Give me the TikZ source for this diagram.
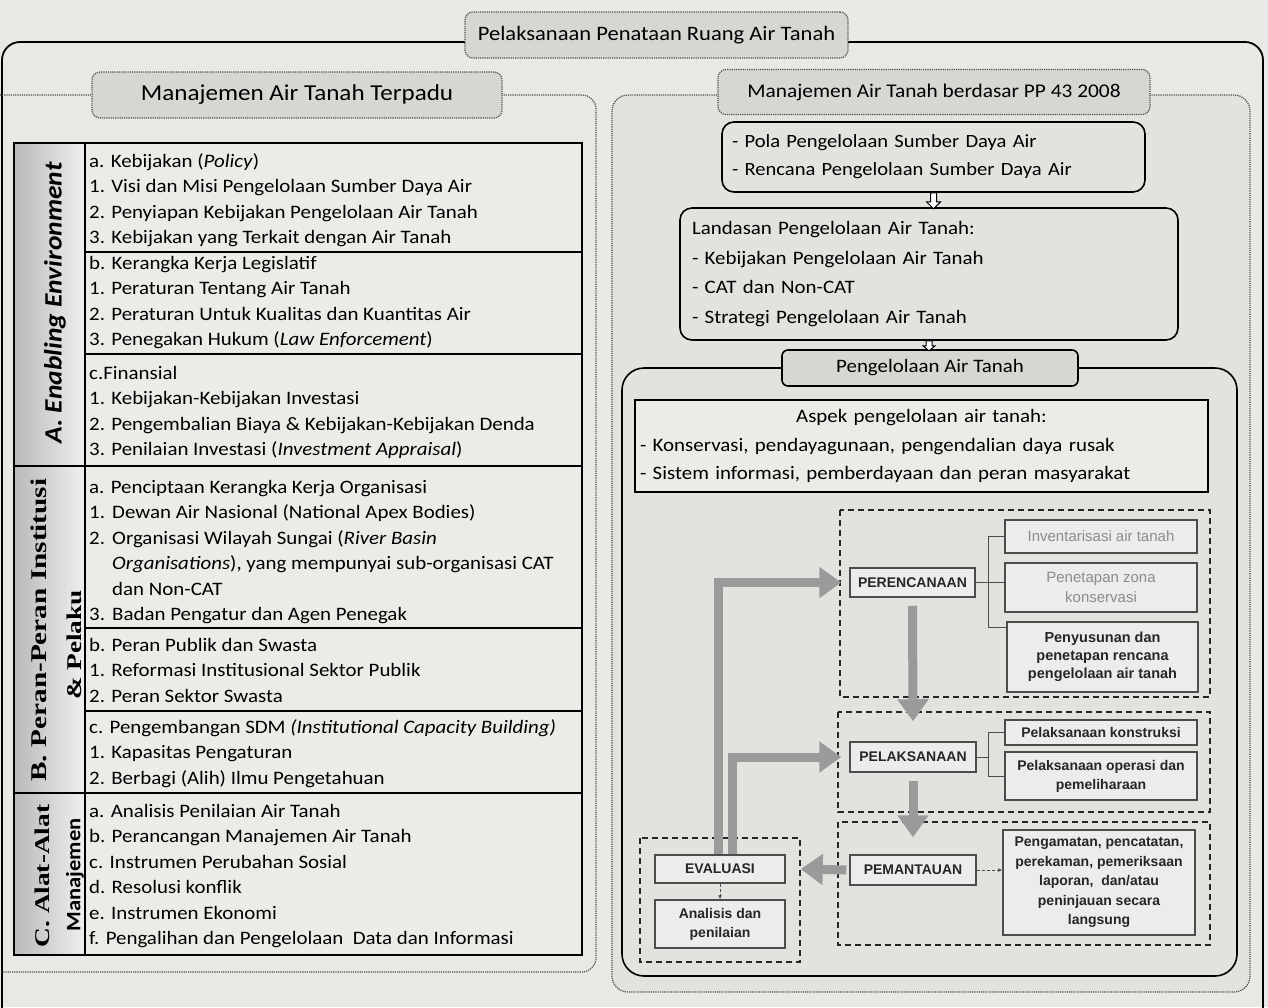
\documentclass[tikz,border=0pt]{standalone}
\usepackage{fontspec}
\setmainfont{Carlito}[FakeStretch=1.1]
\newfontfamily\flowfont{Liberation Sans}
\newfontfamily\labserif{Liberation Serif}[FakeStretch=1.3]
\usetikzlibrary{arrows.meta,calc}
\definecolor{bgc}{HTML}{E8E8E5}
\definecolor{panelc}{HTML}{E2E2DF}
\definecolor{cellc}{HTML}{EBEBE8}
\definecolor{hdrc}{HTML}{D6D6D3}
\definecolor{arrc}{HTML}{9A9A9A}
\definecolor{fboxc}{HTML}{ECECEA}
\definecolor{dotc}{HTML}{505050}
\newcommand{\numbx}[1]{\makebox[23pt][l]{#1}}
\begin{document}
\begin{tikzpicture}[x=1pt,y=-1pt,
  hdr/.style={draw=dotc, densely dotted, line width=1.2pt, rounded corners=8pt, fill=hdrc, inner sep=0pt},
  rbox/.style={draw=black, line width=1.6pt, rounded corners=12pt, fill=panelc},
  tabtxt/.style={anchor=north west, inner sep=0pt, align=left, font=\fontsize{19}{25.5}\selectfont},
  fbox/.style={draw=black!70, line width=1.5pt, fill=fboxc, inner sep=1pt, align=center, text=black!85, font=\flowfont\bfseries\fontsize{14}{19}\selectfont},
  fgray/.style={fbox, text=black!45, font=\flowfont\fontsize{15}{20}\selectfont},
  grp/.style={draw=black!85, line width=1.5pt, dash pattern=on 6pt off 4pt},
  bigarr/.style={draw=arrc, line width=9pt, -{Triangle[length=22pt,width=30pt]}},
  conn/.style={draw=black!70, line width=1pt},
  pdot/.style={draw=dotc, densely dotted, line width=1.2pt}
]
\fill[bgc] (0,0) rectangle (1268,1007);
\useasboundingbox (0,0) rectangle (1268,1007);

% outer frame
\draw[line width=1.8pt, rounded corners=18pt] (2,42) rectangle (1263,1040);
\node[hdr, minimum width=383, minimum height=46, font=\fontsize{20.5}{20.5}\selectfont] (title) at (656.5,35) {Pelaksanaan Penataan Ruang Air Tanah};

% left panel
\draw[pdot, rounded corners=14pt] (-20,95) -- (596,95) -- (596,972) -- (-20,972);
\node[hdr, minimum width=410, minimum height=46, font=\fontsize{22.8}{22.8}\selectfont] (lhdr) at (297,95) {Manajemen Air Tanah Terpadu};

% left table
\fill[cellc] (85,143) rectangle (582,955);
\shade[left color=gray!55, right color=gray!12] (14,143) rectangle (85,955);
\draw[line width=1.8pt] (14,143) rectangle (582,955);
\draw[line width=1.8pt] (85,143) -- (85,955);
\draw[line width=1.8pt] (14,466) -- (582,466);
\draw[line width=1.8pt] (14,793) -- (582,793);
\draw[line width=1.6pt] (85,252) -- (582,252);
\draw[line width=1.8pt] (85,354) -- (582,354);
\draw[line width=1.6pt] (85,628) -- (582,628);
\draw[line width=1.8pt] (85,711) -- (582,711);

\node[rotate=90, font=\bfseries\itshape\fontsize{25}{25}\selectfont] (labA) at (55,303) {A. Enabling Environment};
\node[rotate=90, font=\labserif\bfseries\fontsize{22.5}{22.5}\selectfont] (labB) at (39,630) {B. Peran-Peran Institusi};
\node[rotate=90, font=\labserif\bfseries\fontsize{21}{21}\selectfont] (labB2) at (74,645) {\& Pelaku};
\node[rotate=90, font=\labserif\bfseries\fontsize{21}{21}\selectfont] (labC) at (42,876) {C. Alat-Alat};
\node[rotate=90, font=\bfseries\fontsize{20.5}{20.5}\selectfont] (labC2) at (75,875) {Manajemen};

\node[tabtxt] (ta) at (89,149) {\strut a. Kebijakan (\textit{Policy})\\1. Visi dan Misi Pengelolaan Sumber Daya Air\\2. Penyiapan Kebijakan Pengelolaan Air Tanah\\3. Kebijakan yang Terkait dengan Air Tanah};
\node[tabtxt] (tb) at (89,251) {\strut b. Kerangka Kerja Legislatif\\1. Peraturan Tentang Air Tanah\\2. Peraturan Untuk Kualitas dan Kuantitas Air\\3. Penegakan Hukum (\textit{Law Enforcement})};
\node[tabtxt] (tc) at (89,361) {\strut c.Finansial\\1. Kebijakan-Kebijakan Investasi\\2. Pengembalian Biaya \& Kebijakan-Kebijakan Denda\\3. Penilaian Investasi (\textit{Investment Appraisal})};
\node[tabtxt] (ba) at (89,475) {\strut a. Penciptaan Kerangka Kerja Organisasi\\\numbx{1.}Dewan Air Nasional (National Apex Bodies)\\\numbx{2.}Organisasi Wilayah Sungai (\textit{River Basin}\\\numbx{}\textit{Organisations}), yang mempunyai sub-organisasi CAT\\\numbx{}dan Non-CAT\\\numbx{3.}Badan Pengatur dan Agen Penegak};
\node[tabtxt] (bb) at (89,633) {\strut b. Peran Publik dan Swasta\\1. Reformasi Institusional Sektor Publik\\2. Peran Sektor Swasta};
\node[tabtxt] (bc) at (89,715) {\strut c. Pengembangan SDM \textit{(Institutional Capacity Building)}\\1. Kapasitas Pengaturan\\2. Berbagi (Alih) Ilmu Pengetahuan};
\node[tabtxt] (ca) at (89,799) {\strut a. Analisis Penilaian Air Tanah\\b. Perancangan Manajemen Air Tanah\\c. Instrumen Perubahan Sosial\\d. Resolusi konflik\\e. Instrumen Ekonomi\\f. Pengalihan dan Pengelolaan\ \ Data dan Informasi};

% right panel
\draw[pdot, rounded corners=16pt, fill=panelc] (612,95) rectangle (1250,992);
\node[hdr, minimum width=432, minimum height=45, font=\fontsize{19.4}{19.4}\selectfont] (rhdr) at (934,92) {Manajemen Air Tanah berdasar PP 43 2008};

\node[rbox, minimum width=423, minimum height=70, text width=403, inner xsep=10pt, align=left, font=\fontsize{18.7}{28}\selectfont] (b1) at (933.5,157) {- Pola Pengelolaan Sumber Daya Air\\- Rencana Pengelolaan Sumber Daya Air};
\node[rbox, minimum width=498, minimum height=132, text width=474, inner xsep=12pt, align=left, font=\fontsize{19}{29.5}\selectfont] (b2) at (929,274) {Landasan Pengelolaan Air Tanah:\\- Kebijakan Pengelolaan Air Tanah\\- CAT dan Non-CAT\\- Strategi Pengelolaan Air Tanah};

\draw[line width=1.6pt, rounded corners=22pt] (622,368) rectangle (1237,976);
\node[rbox, fill=hdrc, rounded corners=6pt, minimum width=296, minimum height=36, inner sep=0pt, font=\fontsize{19}{19}\selectfont] (pg) at (930,368) {Pengelolaan Air Tanah};

\draw[line width=1pt, fill=white] ($(b1.south)+(-3,0)$) -- ++(0,9) -- ++(-4,0) -- ++(7,7) -- ++(7,-7) -- ++(-4,0) -- ++(0,-9) -- cycle;
\draw[line width=1pt, fill=white] ($(b2.south)+(-3,0)$) -- ++(0,5) -- ++(-3,0) -- ++(6,5) -- ++(6,-5) -- ++(-3,0) -- ++(0,-5) -- cycle;

\node[draw, line width=1.6pt, fill=cellc, minimum width=573, minimum height=92, text width=563, inner sep=5pt, align=left, font=\fontsize{19}{28.5}\selectfont] (asp) at (921.5,446) {\makebox[563pt]{Aspek pengelolaan air tanah:}\\- Konservasi, pendayagunaan, pengendalian daya rusak\\- Sistem informasi, pemberdayaan dan peran masyarakat};

% flow groups
\draw[grp] (840,510) rectangle (1210,697);
\draw[grp] (838,712) rectangle (1210,812);
\draw[grp] (838,822) rectangle (1210,945);
\draw[grp] (640,838) rectangle (800,962);

% flow nodes
\node[fbox, minimum width=125, minimum height=29] (per) at (912.5,582.5) {PERENCANAAN};
\node[fgray, minimum width=192, minimum height=33] (inv) at (1101,536.5) {Inventarisasi air tanah};
\node[fgray, minimum width=192, minimum height=49] (zon) at (1101,587.5) {Penetapan zona\\konservasi};
\node[fbox, minimum width=191, minimum height=70, font=\flowfont\bfseries\fontsize{14.5}{18}\selectfont] (rcn) at (1102.5,657) {Penyusunan dan\\penetapan rencana\\pengelolaan air tanah};
\node[fbox, minimum width=126, minimum height=30] (pel) at (913,757) {PELAKSANAAN};
\node[fbox, minimum width=192, minimum height=25] (kon) at (1101,732.5) {Pelaksanaan konstruksi};
\node[fbox, minimum width=192, minimum height=48] (ops) at (1101,776) {Pelaksanaan operasi dan\\pemeliharaan};
\node[fbox, minimum width=126, minimum height=30] (pem) at (913,870) {PEMANTAUAN};
\node[fbox, minimum width=192, minimum height=105, font=\flowfont\bfseries\fontsize{14}{19.5}\selectfont] (pmt) at (1099,882.5) {Pengamatan, pencatatan,\\perekaman, pemeriksaan\\laporan,\ \ dan/atau\\peninjauan secara\\langsung};
\node[fbox, minimum width=130, minimum height=28] (ev) at (720,869) {EVALUASI};
\node[fbox, minimum width=130, minimum height=48] (an) at (720,924) {Analisis dan\\penilaian};

% brackets
\coordinate (bx1) at (988,0);
\coordinate (rt) at ([yshift=-6pt]rcn.north west);
\draw[conn] (per.east) -- (per.east -| zon.west);
\draw[conn] (inv.west) -- (inv.west -| bx1) -- (rt -| bx1) -- (rt);
\draw[conn] (pel.east) -- (pel.east -| bx1);
\draw[conn] (kon.west) -- (kon.west -| bx1) -- (ops.west -| bx1) -- (ops.west);
\draw[conn, densely dashed, -{Latex[length=4pt,width=4pt]}] (pem.east) -- (pem.east -| pmt.west);
\draw[conn, densely dashed, -{Latex[length=4pt,width=4pt]}] (ev.south) -- (an.north);

% big gray arrows
\draw[bigarr] ([yshift=-8pt]per.south) -- ([yshift=20pt]pel.north);
\draw[bigarr] ([yshift=-8pt]pel.south) -- ([yshift=17pt]pem.north);
\draw[bigarr] ([xshift=-3pt]pem.west) -- ([xshift=15pt]ev.east);
\draw[bigarr, line join=miter] ([xshift=-2pt]ev.north) |- ([xshift=-8pt]per.west);
\draw[bigarr, line join=miter] ([xshift=12pt]ev.north) |- ([xshift=-8pt]pel.west);
\end{tikzpicture}
\end{document}
